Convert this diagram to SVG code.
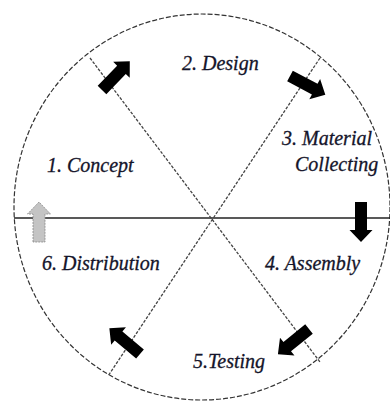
<svg xmlns="http://www.w3.org/2000/svg" width="390" height="401" viewBox="0 0 390 401">
<style>
.lbl{font-family:"Liberation Serif","Times New Roman",serif;font-style:italic;font-size:20px;fill:#14142a;stroke:#14142a;stroke-width:0.3}
.ring{fill:none;stroke:#333;stroke-width:1.2;stroke-dasharray:5 2}
.diag{stroke:#444;stroke-width:1.3;stroke-dasharray:3 1.5;fill:none}
.axis{stroke:#222;stroke-width:1.6}
.blk{fill:#000}
.gry{fill:#c4c4c4;stroke:#888;stroke-width:0.8;stroke-dasharray:2 1}
</style>
<defs>
<path id="arr" d="M0,-6 L28,-6 L28,-11.5 L40,0 L28,11.5 L28,6 L0,6 Z"/>
</defs>
<rect width="390" height="401" fill="#fff"/>
<g id="connectors">
<ellipse class="ring" cx="202" cy="207" rx="188" ry="193"/>
<line class="axis" x1="14" y1="218" x2="390" y2="218"/>
<line class="diag" x1="90" y1="58" x2="320" y2="362"/>
<line class="diag" x1="320" y1="58" x2="108" y2="376"/>
<use href="#arr" class="blk" transform="translate(102,90) rotate(-46)"/>
<use href="#arr" class="blk" transform="translate(290,76) rotate(28)"/>
<use href="#arr" class="blk" transform="translate(361,202) rotate(90)"/>
<use href="#arr" class="blk" transform="translate(309,329) rotate(141)"/>
<use href="#arr" class="blk" transform="translate(140,354) rotate(220)"/>
<use href="#arr" class="gry" transform="translate(39,242) rotate(-90)"/>
</g>
<g id="n1"><text class="lbl" x="47" y="172">1. Concept</text></g>
<g id="n2"><text class="lbl" x="182" y="70">2. Design</text></g>
<g id="n3"><text class="lbl" x="282" y="145">3. Material</text><text class="lbl" x="295" y="171">Collecting</text></g>
<g id="n4"><text class="lbl" x="265" y="270">4. Assembly</text></g>
<g id="n5"><text class="lbl" x="193" y="368">5.Testing</text></g>
<g id="n6"><text class="lbl" x="42" y="270">6. Distribution</text></g>
</svg>
